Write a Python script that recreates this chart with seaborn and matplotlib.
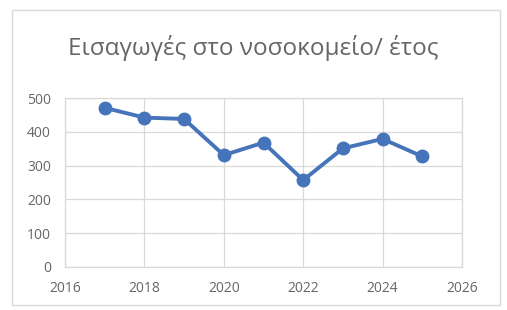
import pandas as pd
import matplotlib.pyplot as plt
import seaborn as sns
from matplotlib.patches import Rectangle

# ---------- data ----------
years = [2017, 2018, 2019, 2020, 2021, 2022, 2023, 2024, 2025]
admissions = [471, 442, 438, 331, 368, 257, 351, 379, 327]
x_ticks = [2016, 2018, 2020, 2022, 2024, 2026]
y_ticks = [0, 100, 200, 300, 400, 500]
title = "Εισαγωγές στο νοσοκομείο/ έτος"

df = pd.DataFrame({"year": years, "admissions": admissions})

sns.set_theme(style="white")
plt.rcParams["font.family"] = ["Open Sans", "DejaVu Sans"]

fig = plt.figure(figsize=(5.07, 3.10), dpi=100)
ax = fig.add_axes([65 / 507, 1 - 267 / 310, (462 - 65) / 507, (267 - 98) / 310])

sns.lineplot(data=df, x="year", y="admissions", ax=ax, color="#4674ba",
             linewidth=2.8, marker="o", markersize=10, markeredgewidth=0)

ax.set_xlim(2016, 2026)
ax.set_ylim(0, 500)
ax.set_xticks(x_ticks)
ax.set_yticks(y_ticks)
ax.grid(True, color="#d9d9d9", linewidth=0.9)
for s in ax.spines.values():
    s.set_color("#d9d9d9")
    s.set_linewidth(0.9)
ax.tick_params(axis="both", labelsize=10, colors="#666666", length=0)
ax.tick_params(axis="x", pad=10)
ax.tick_params(axis="y", pad=10)
ax.set_xlabel("")
ax.set_ylabel("")

fig.text(0.5, 1 - 48 / 310, title, ha="center", va="center",
         fontsize=17.5, color="#666666")

# outer chart frame
fig.patches.append(Rectangle((12 / 507, 1 - 305 / 310), (500 - 12) / 507, (305 - 10) / 310,
                             transform=fig.transFigure, fill=False,
                             edgecolor="#d9d9d9", linewidth=1))

fig.savefig("out.png", dpi=100)
